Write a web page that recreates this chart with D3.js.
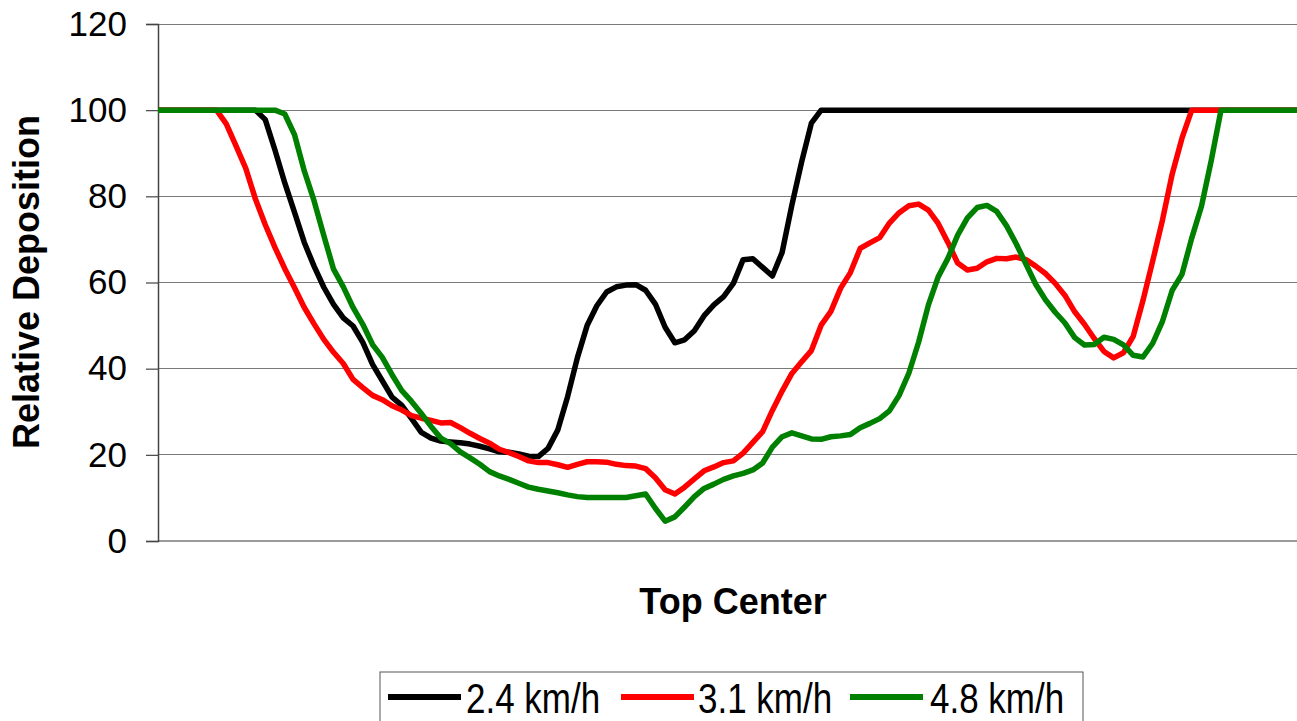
<!DOCTYPE html>
<html><head><meta charset="utf-8">
<script src="https://cdn.jsdelivr.net/npm/d3@7"></script>
<style>html,body{margin:0;padding:0;background:#fff;} svg{display:block;font-family:"Liberation Sans",Arial,sans-serif;}</style>
</head><body><svg id="chart" width="1297" height="721"></svg>
<script>
// category positions (unlabelled points along "Top Center")
const categories = d3.range(118);
const yTicks = [0, 20, 40, 60, 80, 100, 120];
const seriesNames = ["2.4 km/h", "3.1 km/h", "4.8 km/h"];
const seriesColors = ["#000000", "#ff0000", "#008000"];

const speed24 = [100,100,100,100,100,100,100,100,100,100,100,
 97.8,90.7,83.1,76.3,69.3,63.8,58.9,54.9,51.8,49.9,46.1,41.0,37.2,33.4,31.5,28.4,25.2,23.9,23.2,23.0,
 22.8,22.5,22.0,21.4,20.7,20.6,20.2,19.7,19.6,21.5,25.8,33.5,42.5,50.0,54.6,57.8,59.0,59.4,59.5,58.2,
 55.0,49.6,46.0,46.7,48.8,52.3,54.8,56.7,59.8,65.3,65.5,63.5,61.5,67.0,78.0,88.0,97.0,100,
 100,100,100,100,100,100,100,100,100,100,100,100,100,100,100,100,100,100,100,100,100,100,100,100,100,
 100,100,100,100,100,100,100,100,100,100,100,100,100,100,100,100,100,100,100,100,100,100,100,100,100];

const speed31 = [100,100,100,100,100,100,100,
 96.8,91.7,86.5,79.3,73.4,68.1,63.2,58.8,54.2,50.4,46.8,43.8,41.2,37.5,35.6,33.8,32.8,31.4,30.4,29.1,
 28.5,28.0,27.4,27.5,26.3,25.0,23.8,22.7,21.3,20.5,19.6,18.6,18.2,18.2,17.7,17.1,17.8,18.4,18.4,18.3,
 17.8,17.5,17.4,16.8,14.7,11.9,10.9,12.5,14.4,16.3,17.2,18.2,18.6,20.4,22.9,25.4,30.3,34.8,38.9,41.6,
 44.2,50.1,53.3,58.7,62.3,67.9,69.2,70.4,73.8,76.2,77.8,78.2,76.8,73.7,69.3,64.5,62.9,63.3,64.8,65.6,
 65.5,65.9,65.3,63.8,62.1,59.8,57.0,53.2,50.3,47.0,44.0,42.5,43.7,47.5,55.8,65.0,74.5,85.2,93.5,100,
 100,100,100,100,100,100,100,100,100,100,100];

const speed48 = [100,100,100,100,100,100,100,100,100,100,100,100,100,
 99.1,94.3,85.9,79.0,70.9,63.1,59.0,54.2,50.3,45.6,42.6,38.6,34.9,32.4,29.6,26.6,23.9,22.6,20.7,19.3,
 17.8,16.1,15.1,14.3,13.4,12.5,12.0,11.6,11.2,10.7,10.3,10.1,10.1,10.1,10.1,10.1,10.5,10.9,7.6,4.6,
 5.6,7.9,10.3,12.2,13.2,14.3,15.1,15.7,16.5,18.1,21.8,24.2,25.1,24.4,23.7,23.6,24.2,24.4,24.7,26.3,
 27.3,28.4,30.2,33.8,39.0,46.2,54.8,61.3,65.6,71.0,75.0,77.4,77.9,76.5,73.2,69.0,64.3,59.6,56.0,53.1,
 50.6,47.2,45.5,45.6,47.3,46.8,45.5,43.1,42.7,45.9,51.0,58.2,61.9,70.3,77.7,88.3,100,
 100,100,100,100,100,100,100,100];

const allSeries = [speed24, speed31, speed48];

const svg = d3.select("#chart");
const plotLeft = 158, plotRight = 1297, plotTop = 24, plotBottom = 541;

const x = d3.scaleLinear().domain([0, categories.length - 1]).range([plotLeft, 1299]);
const y = d3.scaleLinear().domain([0, 120]).range([plotBottom, plotTop]);

// gridlines
svg.append("g").selectAll("line").data(yTicks.filter(d => d > 0)).join("line")
  .attr("x1", plotLeft).attr("x2", plotRight)
  .attr("y1", d => y(d)).attr("y2", d => y(d))
  .attr("stroke", "#7a7a7a").attr("stroke-width", 1).attr("shape-rendering", "crispEdges");

// bottom axis line
svg.append("line").attr("x1", plotLeft).attr("x2", plotRight).attr("y1", y(0)).attr("y2", y(0))
  .attr("stroke", "#9a9a9a").attr("stroke-width", 2);

// y axis
const yAxis = d3.axisLeft(y).tickValues(yTicks).tickSize(12).tickPadding(19).tickFormat(d3.format("d"));
const ga = svg.append("g").attr("transform", `translate(${plotLeft},0)`).call(yAxis);
ga.select(".domain").attr("stroke", "#444").attr("stroke-width", 1.5);
ga.selectAll(".tick line").attr("stroke", "#444").attr("stroke-width", 1.2);
ga.selectAll(".tick text").attr("font-size", 35).attr("fill", "#000")
  .attr("font-family", "'Liberation Sans', Arial, sans-serif");

// lines
const line = d3.line().x((d, i) => x(categories[i])).y(d => y(d)).curve(d3.curveLinear);
svg.append("g").selectAll("path").data(allSeries).join("path")
  .attr("d", d => line(d))
  .attr("fill", "none")
  .attr("stroke", (d, i) => seriesColors[i])
  .attr("stroke-width", 5.5)
  .attr("stroke-linejoin", "round");

// axis titles
svg.append("text").attr("transform", "translate(39,282) rotate(-90)")
  .attr("text-anchor", "middle").attr("font-weight", "bold").attr("font-size", 36)
  .text("Relative Deposition");
svg.append("text").attr("x", 733).attr("y", 614)
  .attr("text-anchor", "middle").attr("font-weight", "bold").attr("font-size", 36)
  .text("Top Center");

// legend
const lg = svg.append("g");
lg.append("rect").attr("x", 380).attr("y", 672).attr("width", 703).attr("height", 80)
  .attr("fill", "#fff").attr("stroke", "#555").attr("stroke-width", 1);
const lineX = [388, 621, 850];
const textX = [466, 698, 930];
seriesNames.forEach((name, i) => {
  lg.append("line").attr("x1", lineX[i]).attr("x2", lineX[i] + 73).attr("y1", 697).attr("y2", 697)
    .attr("stroke", seriesColors[i]).attr("stroke-width", 6);
  lg.append("text").attr("transform", `translate(${textX[i]},713) scale(1,1.2)`)
    .attr("font-size", 35).text(name);
});
</script></body></html>
